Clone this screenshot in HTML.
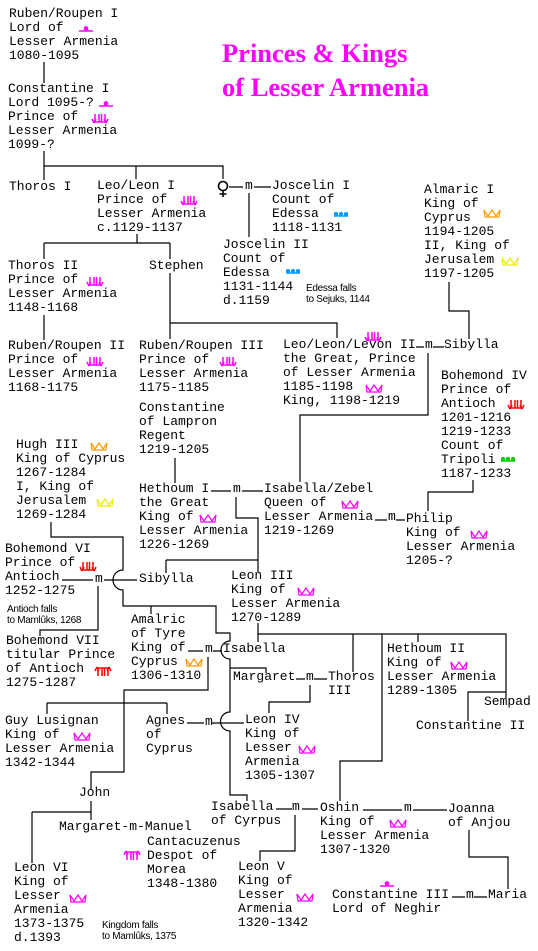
<!DOCTYPE html>
<html><head><meta charset="utf-8"><style>
body{margin:0;background:#fff;}
#c{position:relative;width:538px;height:951px;overflow:hidden;background:#fff;}
.t{position:absolute;white-space:pre;font:13px/14px "Liberation Mono","DejaVu Sans Mono",monospace;color:#000;}
.n{position:absolute;white-space:pre;font:10px/11px "Liberation Sans",sans-serif;color:#000;letter-spacing:-0.3px;}
.h{position:absolute;white-space:pre;font:bold 26.5px/34px "Liberation Serif",serif;color:#ff00ff;}
svg{position:absolute;left:0;top:0;}
</style></head><body><div id="c">
<svg width="538" height="951" viewBox="0 0 538 951">
<defs>
<g id="cr" fill="none" stroke-width="1.2"><path d="M-8 -3 L-4 3 L0 -3 L4 3 L8 -3 L7 4 L-7 4 Z"/></g>
<g id="pr" stroke-width="1.5" fill="none"><path d="M-7 4 H7 M-5 -4 V4 M-1 -4 V4 M1.5 -4 V4 M5 -4 V4"/><path d="M-8 1 L-6 5 M-4 1 L-6 5 M8 1 L6 5 M4 1 L6 5"/></g>
<g id="pu" stroke-width="1.5" fill="none"><path d="M-7 -4 H7 M-5 -4 V4 M-1 -4 V4 M1.5 -4 V4 M5 -4 V4"/><path d="M-8 -1 L-6 -5 M-4 -1 L-6 -5 M8 -1 L6 -5 M4 -1 L6 -5"/></g>
<g id="co" stroke-width="1.5"><path d="M-7 2 H7" fill="none"/><circle cx="-5" cy="0" r="1.3"/><circle cx="0" cy="0" r="1.3"/><circle cx="5" cy="0" r="1.3"/></g>
<g id="lo" stroke-width="1.5"><path d="M-7 2 H7" fill="none"/><circle cx="0" cy="-0.5" r="1.6"/></g>
</defs>
<g stroke="#000" stroke-width="1.2" fill="none">
<path d="M44 62 V83"/>
<path d="M44 151 V180 M44 166 H223 V179 M136 166 V179"/>
<circle cx="223" cy="186" r="4.5" stroke-width="1.6"/>
<path d="M223 190.5 V197 M219.5 194 H226.5" stroke-width="1.6"/>
<path d="M229 187 H243 M254 187 H271 M249 193 V237"/>
<path d="M137 234 V243 M44 243 H170 M44 243 V259 M170 243 V259"/>
<path d="M44 315 V340"/>
<path d="M170 273 V339 M170 323 H337 V338"/>
<path d="M449 282 V311 H469 V339"/>
<path d="M416 347 H424 M433 347 H444 M428 353 V415 H300 V482"/>
<path d="M473 480 V492 H428 V511"/>
<path d="M175 458 V483"/>
<path d="M211 491 H231 M242 491 H263 M236 497 V518 H258 V572 M166 560 H258 M166 560 V573"/>
<path d="M375 520 H387 M396 520 H405"/>
<path d="M51 522 V537 H123 V570 A10 10 0 0 0 123 590 V606 H216 V633 H230 V641 A9 9 0 0 0 230 659 V712 A9 9 0 0 0 230 731 V795 H247 V801 M151 606 V614 M230 668 H266 V673"/>
<path d="M62 580 H93 M104 580 H137 M98 586 V630 H40 V636"/>
<path d="M188 651 H203 M213 651 H222 M208 657 V690 H124 V772 H91 V790 M47 703 H167 M47 703 V714 M167 703 V714"/>
<path d="M258 623 V642 M258 634 H506 V698 M353 634 V672 M418 634 V642 M382 634 V761 H340 V801 M506 692 H468 V721"/>
<path d="M296 679 H305 M314 679 H327 M310 685 V702 H269 V713"/>
<path d="M187 723 H204 M212 723 H244"/>
<path d="M276 809 H292 M302 809 H318 M295 815 V851 H260 V861"/>
<path d="M363 810 H402 M413 810 H447"/>
<path d="M469 830 V857 H508 V889"/>
<path d="M91 801 V820 M32 812 H91 M32 812 V863"/>
<path d="M452 897 H465 M474 897 H487"/>
</g>
<g>
<use href="#lo" x="86" y="29" fill="#f0f" stroke="#f0f"/>
<use href="#lo" x="106" y="104" fill="#f0f" stroke="#f0f"/>
<use href="#pr" x="100" y="118" stroke="#f0f"/>
<use href="#pr" x="189" y="200" stroke="#f0f"/>
<use href="#co" x="341" y="214" fill="#09f" stroke="#09f"/>
<use href="#co" x="293" y="271" fill="#09f" stroke="#09f"/>
<use href="#cr" x="492" y="213" stroke="#f90"/>
<use href="#cr" x="510" y="261" stroke="#ee0"/>
<use href="#pr" x="95" y="281" stroke="#f0f"/>
<use href="#pr" x="95" y="361" stroke="#f0f"/>
<use href="#pr" x="228" y="361" stroke="#f0f"/>
<use href="#pr" x="373" y="336" stroke="#f0f"/>
<use href="#cr" x="374" y="388" stroke="#f0f"/>
<use href="#pr" x="516" y="404" stroke="#f00"/>
<use href="#co" x="508" y="459" fill="#0c0" stroke="#0c0"/>
<use href="#cr" x="99" y="446" stroke="#f90"/>
<use href="#cr" x="105" y="502" stroke="#ee0"/>
<use href="#cr" x="208" y="518" stroke="#f0f"/>
<use href="#cr" x="350" y="504" stroke="#f0f"/>
<use href="#cr" x="479" y="534" stroke="#f0f"/>
<use href="#pr" x="88" y="566" stroke="#f00"/>
<use href="#cr" x="306" y="591" stroke="#f0f"/>
<use href="#pu" x="103" y="672" stroke="#f00"/>
<use href="#cr" x="194" y="662" stroke="#f90"/>
<use href="#cr" x="459" y="665" stroke="#f0f"/>
<use href="#cr" x="82" y="736" stroke="#f0f"/>
<use href="#cr" x="307" y="749" stroke="#f0f"/>
<use href="#cr" x="398" y="823" stroke="#f0f"/>
<use href="#pu" x="132" y="856" stroke="#f0f"/>
<use href="#cr" x="78" y="898" stroke="#f0f"/>
<use href="#cr" x="305" y="897" stroke="#f0f"/>
<use href="#lo" x="387" y="884" fill="#f0f" stroke="#f0f"/>
</g>
</svg>
<div class="h" style="left:222px;top:36px">Princes &amp; Kings</div>
<div class="h" style="left:222px;top:70px">of Lesser Armenia</div>
<div class="t" style="left:9px;top:7px">Ruben/Roupen I
Lord of
Lesser Armenia
1080-1095</div>
<div class="t" style="left:8px;top:82px">Constantine I
Lord 1095-?
Prince of
Lesser Armenia
1099-?</div>
<div class="t" style="left:9px;top:180px">Thoros I</div>
<div class="t" style="left:97px;top:179px">Leo/Leon I
Prince of
Lesser Armenia
c.1129-1137</div>
<div class="t" style="left:245px;top:179px">m</div>
<div class="t" style="left:272px;top:179px">Joscelin I
Count of
Edessa
1118-1131</div>
<div class="t" style="left:223px;top:238px">Joscelin II
Count of
Edessa
1131-1144
d.1159</div>
<div class="n" style="left:306px;top:283px">Edessa falls
to Sejuks, 1144</div>
<div class="t" style="left:424px;top:183px">Almaric I
King of
Cyprus
1194-1205
II, King of
Jerusalem
1197-1205</div>
<div class="t" style="left:8px;top:259px">Thoros II
Prince of
Lesser Armenia
1148-1168</div>
<div class="t" style="left:149px;top:259px">Stephen</div>
<div class="t" style="left:8px;top:339px">Ruben/Roupen II
Prince of
Lesser Armenia
1168-1175</div>
<div class="t" style="left:139px;top:339px">Ruben/Roupen III
Prince of
Lesser Armenia
1175-1185</div>
<div class="t" style="left:283px;top:338px">Leo/Leon/Levon II
the Great, Prince
of Lesser Armenia
1185-1198
King, 1198-1219</div>
<div class="t" style="left:425px;top:338px">m</div>
<div class="t" style="left:444px;top:338px">Sibylla</div>
<div class="t" style="left:441px;top:369px">Bohemond IV
Prince of
Antioch
1201-1216
1219-1233
Count of
Tripoli
1187-1233</div>
<div class="t" style="left:139px;top:401px">Constantine
of Lampron
Regent
1219-1205</div>
<div class="t" style="left:16px;top:438px">Hugh III
King of Cyprus
1267-1284
I, King of
Jerusalem
1269-1284</div>
<div class="t" style="left:139px;top:482px">Hethoum I
the Great
King of
Lesser Armenia
1226-1269</div>
<div class="t" style="left:233px;top:482px">m</div>
<div class="t" style="left:264px;top:482px">Isabella/Zebel
Queen of
Lesser Armenia
1219-1269</div>
<div class="t" style="left:388px;top:510px">m</div>
<div class="t" style="left:406px;top:512px">Philip
King of
Lesser Armenia
1205-?</div>
<div class="t" style="left:5px;top:542px">Bohemond VI
Prince of
Antioch
1252-1275</div>
<div class="t" style="left:95px;top:572px">m</div>
<div class="n" style="left:7px;top:604px">Antioch falls
to Mamlûks, 1268</div>
<div class="t" style="left:139px;top:572px">Sibylla</div>
<div class="t" style="left:231px;top:569px">Leon III
King of
Lesser Armenia
1270-1289</div>
<div class="t" style="left:6px;top:634px">Bohemond VII
titular Prince
of Antioch
1275-1287</div>
<div class="t" style="left:131px;top:613px">Amalric
of Tyre
King of
Cyprus
1306-1310</div>
<div class="t" style="left:205px;top:642px">m</div>
<div class="t" style="left:223px;top:642px">Isabella</div>
<div class="t" style="left:233px;top:670px">Margaret</div>
<div class="t" style="left:306px;top:670px">m</div>
<div class="t" style="left:328px;top:670px">Thoros
III</div>
<div class="t" style="left:387px;top:642px">Hethoum II
King of
Lesser Armenia
1289-1305</div>
<div class="t" style="left:484px;top:695px">Sempad</div>
<div class="t" style="left:416px;top:719px">Constantine II</div>
<div class="t" style="left:5px;top:714px">Guy Lusignan
King of
Lesser Armenia
1342-1344</div>
<div class="t" style="left:146px;top:714px">Agnes
of
Cyprus</div>
<div class="t" style="left:205px;top:715px">m</div>
<div class="t" style="left:245px;top:713px">Leon IV
King of
Lesser
Armenia
1305-1307</div>
<div class="t" style="left:79px;top:786px">John</div>
<div class="t" style="left:211px;top:800px">Isabella
of Cyrpus</div>
<div class="t" style="left:292px;top:800px">m</div>
<div class="t" style="left:320px;top:801px">Oshin
King of
Lesser Armenia
1307-1320</div>
<div class="t" style="left:404px;top:801px">m</div>
<div class="t" style="left:448px;top:802px">Joanna
of Anjou</div>
<div class="t" style="left:59px;top:820px">Margaret-m-Manuel</div>
<div class="t" style="left:147px;top:835px">Cantacuzenus
Despot of
Morea
1348-1380</div>
<div class="t" style="left:14px;top:861px">Leon VI
King of
Lesser
Armenia
1373-1375
d.1393</div>
<div class="n" style="left:102px;top:920px">Kingdom falls
to Mamlûks, 1375</div>
<div class="t" style="left:238px;top:860px">Leon V
King of
Lesser
Armenia
1320-1342</div>
<div class="t" style="left:332px;top:888px">Constantine III
Lord of Neghir</div>
<div class="t" style="left:466px;top:888px">m</div>
<div class="t" style="left:488px;top:888px">Maria</div>
</div></body></html>
